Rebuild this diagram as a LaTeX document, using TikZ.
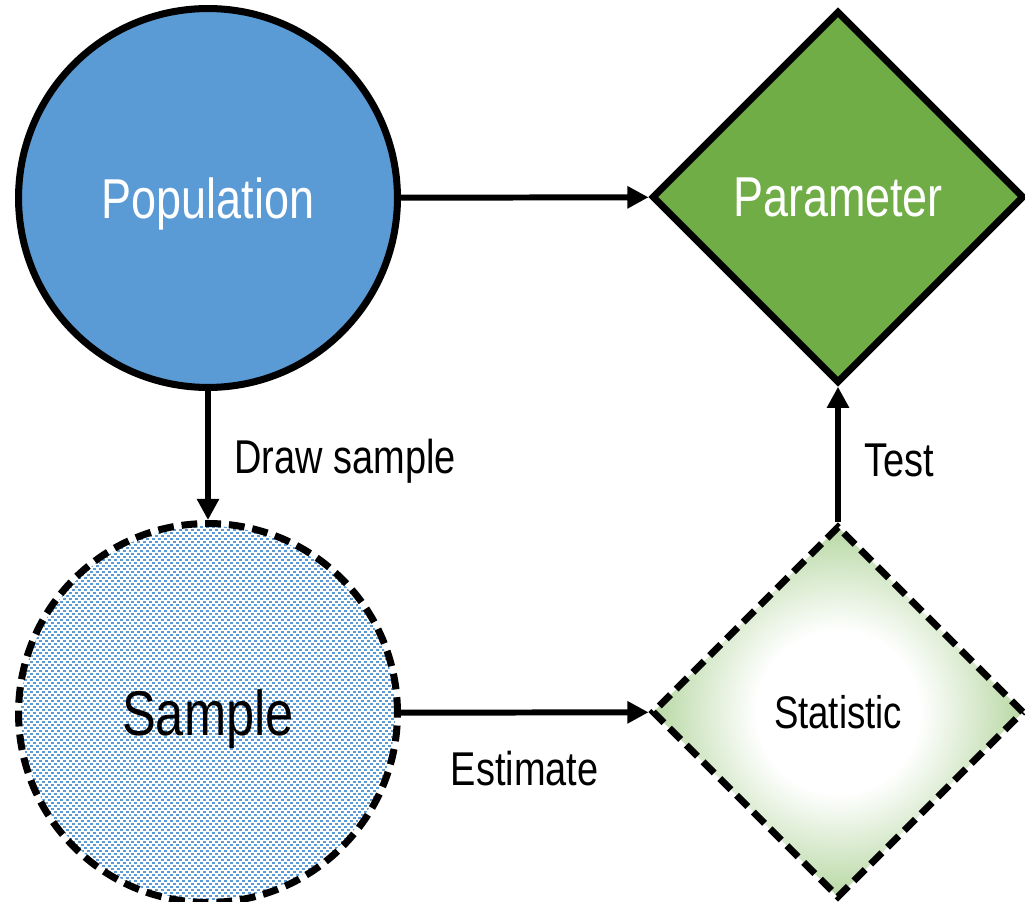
\documentclass[tikz,border=0pt]{standalone}
\usepackage{fontspec}
\setmainfont[FakeStretch=0.8]{Liberation Sans}
\usetikzlibrary{positioning,shapes.geometric,arrows.meta,backgrounds}
\definecolor{popblue}{RGB}{91, 155, 213}
\definecolor{paramgreen}{RGB}{112, 173, 71}
\definecolor{statgreen}{RGB}{184, 216, 164}
\pgfdeclareradialshading{statglow}{\pgfpoint{0bp}{0bp}}{color(0bp)=(white); color(11bp)=(white); color(25bp)=(statgreen); color(50bp)=(statgreen)}

\begin{document}
\begin{tikzpicture}[
        x=0.02cm, y=-0.02cm,
        % Node styles
        popnode/.style={circle, draw=black, line width=4pt, fill=popblue, minimum size=7.58cm, text=white, text depth=0pt, font=\fontsize{32}{36}\selectfont},
        samplenode/.style={circle, draw=black, line width=4pt, dash pattern=on 9pt off 4.5pt, minimum size=7.58cm, text depth=0pt, font=\fontsize{36}{40}\selectfont},
        paramnode/.style={diamond, aspect=1, draw=black, line width=4pt, fill=paramgreen, minimum size=7.45cm, inner sep=0pt, text=white, text depth=0pt, font=\fontsize{32}{36}\selectfont},
        statnode/.style={diamond, aspect=1, draw=black, line width=4pt, dash pattern=on 9pt off 4.5pt, shading=statglow, minimum size=7.45cm, inner sep=0pt, font=\fontsize{26}{30}\selectfont},
        checkrow/.style={popblue, line width=1.7pt, line cap=butt, dash pattern=on 1.7pt off 1.7pt},
        flow/.style={-{Triangle[length=12pt, width=12pt]}, line width=3.4pt},
        steplabel/.style={font=\fontsize{27}{31}\selectfont}
    ]
    \useasboundingbox (0,0) rectangle (1025,902);

    % Nodes
    \node[popnode] (pop) at (208, 198) {Population};
    \node[paramnode] (param) at (838, 197) {Parameter};
    \node[samplenode] (samp) at (208, 713) {Sample};
    \node[statnode] (stat) at (838, 712) {Statistic};

    % checkered fill of the sample
    \begin{pgfonlayer}{background}
        \begin{scope}
            \clip (samp.center) circle (187);
            \foreach \k in {0,...,126} {
                \pgfmathsetmacro\ph{1.7*mod(\k,2)}
                \draw[checkrow, dash phase=\ph pt] (18, 524+3*\k) -- (400, 524+3*\k);
            }
        \end{scope}
    \end{pgfonlayer}

    % Arrows
    \draw[flow] (pop) -- (param);
    \draw[flow] (pop) -- node[steplabel, right=0.35cm, yshift=-0.12cm] {Draw sample} (samp);
    \draw[flow] (samp) -- node[steplabel, below=0.6cm] {Estimate} (stat);
    \draw[flow] (stat) -- node[steplabel, right=0.35cm, yshift=-0.12cm] {Test} (param);

\end{tikzpicture}
\end{document}
